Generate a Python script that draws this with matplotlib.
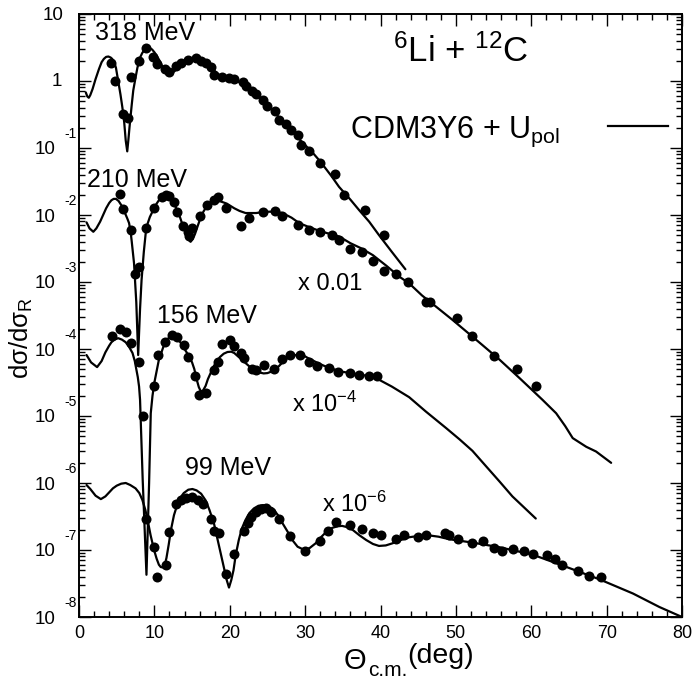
import matplotlib
matplotlib.use("Agg")
import numpy as np
import matplotlib.pyplot as plt
from matplotlib.ticker import MultipleLocator, LogLocator, NullFormatter

plt.rcParams['font.family'] = ['Liberation Sans', 'DejaVu Sans']
plt.rcParams['mathtext.fontset'] = 'custom'
plt.rcParams['mathtext.rm'] = 'Liberation Sans'
plt.rcParams['mathtext.it'] = 'Liberation Sans:italic'
plt.rcParams['mathtext.bf'] = 'Liberation Sans:bold'

# ---------------- 6Li + 12C elastic scattering, ratio to Rutherford ----------------
# scale factors used to separate the energies
scale_318, scale_210, scale_156, scale_99 = 1.0, 1e-2, 1e-4, 1e-6

# 318 MeV
th_318 = [4.3, 4.8, 5.9, 6.5, 6.95, 8.0, 8.9, 9.8, 10.4, 11.4, 11.95, 12.9, 13.5, 14.5,
          15.5, 16.2, 16.8, 17.5, 17.9, 18.95, 19.9, 20.6, 21.7, 22.1, 22.9, 23.5, 24.4,
          25.0, 26.0, 26.5, 27.5, 28.1, 29.1, 29.4, 30.5, 32.0, 34.0, 35.1, 38.0, 40.4]
sig_318 = [1.86, 1.0, 0.324, 0.282, 1.13, 2.0, 3.09, 2.26, 1.80, 1.51, 1.35, 1.70, 1.84, 2.06,
           2.20, 2.0, 1.84, 1.60, 1.23, 1.13, 1.10, 1.07, 0.955, 0.85, 0.716, 0.63, 0.52,
           0.424, 0.36, 0.263, 0.226, 0.186, 0.156, 0.111, 0.0912, 0.0603, 0.0407, 0.020,
           0.0120, 0.0050]
th_318_calc = [0.9, 1.1, 1.3, 1.5, 1.8, 2.2, 2.65, 3.0, 3.3, 3.6, 3.9, 4.2, 4.4, 4.7, 4.9,
               5.2, 5.5, 5.75, 6.0, 6.2, 6.4, 6.55, 6.7, 7.0, 7.2, 7.5, 7.75, 8.1, 8.4, 8.8,
               9.3, 9.7, 10.0, 10.4, 10.7, 11.0, 11.3, 11.7, 12.0, 12.4, 12.7, 13.1, 13.5,
               14.0, 14.5, 15.0, 15.5, 16.0, 16.5, 17.0, 17.5, 18.0, 18.5, 19.0, 19.5, 20.5,
               21.5, 22.5, 23.5, 24.2, 25.0, 26.6, 28.0, 29.5, 31.0, 32.0, 33.5, 34.5, 36.0,
               37.2, 38.5, 39.8, 41.5, 43.3]
sig_318_calc = [0.676, 0.589, 0.562, 0.617, 0.759, 1.07, 1.51, 1.91, 2.14, 2.29, 2.32, 2.24,
                2.14, 1.86, 1.58, 1.0, 0.631, 0.407, 0.240, 0.129, 0.0891, 0.132, 0.204,
                0.447, 0.724, 1.12, 1.58, 2.24, 2.63, 3.02, 3.16, 2.95, 2.69, 2.29, 2.0, 1.70,
                1.48, 1.32, 1.29, 1.32, 1.41, 1.58, 1.74, 1.91, 2.04, 2.14, 2.19, 2.14, 2.0,
                1.78, 1.58, 1.41, 1.26, 1.17, 1.12, 1.05, 0.933, 0.759, 0.617, 0.525, 0.437,
                0.282, 0.191, 0.126, 0.0851, 0.0631, 0.0380, 0.0263, 0.0170, 0.0117, 0.00794,
                0.00501, 0.00282, 0.00155]

# 210 MeV
th_210 = [5.4, 5.9, 6.95, 7.44, 7.97, 8.94, 9.96, 10.98, 11.6, 11.95, 12.6, 12.97, 13.85,
          14.4, 14.6, 15.05, 16.0, 16.95, 17.9, 18.5, 19.5, 21.5, 22.5, 24.4, 26.0, 26.9,
          29.1, 30.5, 32.0, 33.5, 34.5, 36.0, 37.5, 39.0, 40.5, 42.0, 43.6, 46.0, 46.6,
          50.1, 52.1, 55.1, 58.1, 60.6]
sig_210 = [2.04, 1.22, 0.603, 0.130, 0.170, 0.646, 1.26, 1.84, 2.00, 1.92, 1.58, 1.12, 0.692,
           0.562, 0.490, 0.631, 0.977, 1.41, 1.70, 1.86, 1.29, 0.692, 0.912, 1.11, 1.16, 0.966,
           0.701, 0.603, 0.562, 0.501, 0.417, 0.316, 0.282, 0.209, 0.148, 0.132, 0.100,
           0.0501, 0.0501, 0.0295, 0.0155, 0.00794, 0.00501, 0.00282]
th_210_calc = [1.0, 1.4, 1.9, 2.3, 2.8, 3.2, 3.6, 4.0, 4.3, 4.6, 4.9, 5.25, 5.6, 6.1, 6.4,
               6.64, 6.85, 7.0, 7.3, 7.6, 7.85, 8.1, 8.3, 8.6, 8.85, 9.1, 9.4, 9.96, 10.3,
               10.6, 11.0, 11.4, 11.8, 12.2, 12.6, 12.9, 13.3, 13.6, 14.0, 14.3, 14.55, 14.8,
               15.1, 15.4, 15.7, 16.1, 16.5, 16.9, 17.3, 17.8, 18.2, 18.6, 19.1, 19.6, 20.6,
               21.3, 22.1, 23.5, 24.8, 26.0, 27.0, 28.2, 29.2, 30.5, 32.0, 33.5, 34.5, 36.0,
               37.5, 39.0, 40.8, 42.5, 43.8, 45.5, 47.5, 49.5, 51.4, 53.5, 55.8, 58.5, 61.5,
               63.3, 64.5, 65.5, 67.3, 68.6, 70.6]
sig_210_calc = [0.776, 0.631, 0.562, 0.631, 0.794, 1.0, 1.26, 1.51, 1.66, 1.74, 1.74, 1.62,
                1.41, 1.07, 0.891, 0.759, 0.562, 0.398, 0.191, 0.0501, 0.00813, 0.0398, 0.107,
                0.282, 0.537, 0.741, 0.933, 1.26, 1.48, 1.66, 1.80, 1.86, 1.82, 1.70, 1.48,
                1.26, 1.0, 0.794, 0.603, 0.501, 0.427, 0.398, 0.437, 0.525, 0.661, 0.891,
                1.12, 1.32, 1.48, 1.58, 1.64, 1.62, 1.55, 1.48, 1.26, 1.15, 1.07, 1.07, 1.12,
                1.12, 1.07, 0.912, 0.759, 0.661, 0.575, 0.513, 0.479, 0.380, 0.316, 0.251,
                0.174, 0.120, 0.0955, 0.0631, 0.0417, 0.0275, 0.0182, 0.0115, 0.00692,
                0.00363, 0.00174, 0.00110, 0.000708, 0.000468, 0.000347, 0.000295, 0.000200]

# 156 MeV
th_156 = [4.4, 5.4, 6.2, 6.95, 7.97, 8.45, 9.96, 10.45, 11.4, 12.4, 12.97, 13.9, 14.4, 15.4,
          15.9, 16.9, 17.9, 18.5, 18.95, 20.0, 20.5, 21.5, 21.9, 23.0, 23.5, 24.6, 25.9,
          26.9, 28.0, 29.3, 30.5, 31.6, 33.2, 34.4, 35.9, 37.2, 38.5, 39.6]
sig_156 = [1.58, 2.00, 1.78, 1.23, 0.631, 0.100, 0.282, 0.813, 1.29, 1.62, 1.51, 1.15, 0.759,
           0.398, 0.204, 0.224, 0.490, 0.646, 1.17, 1.38, 1.10, 0.871, 0.724, 0.501, 0.479,
           0.575, 0.501, 0.708, 0.813, 0.813, 0.631, 0.562, 0.513, 0.457, 0.437, 0.407,
           0.398, 0.389]
th_156_calc = [1.0, 1.6, 2.4, 3.0, 3.5, 4.0, 4.3, 4.7, 5.2, 5.7, 6.2, 6.7, 7.1, 7.4, 7.6,
               7.8, 7.97, 8.1, 8.45, 8.95, 9.3, 9.52, 9.75, 10.0, 10.3, 10.6, 11.0, 11.3,
               11.7, 12.0, 12.3, 12.6, 13.0, 13.3, 13.7, 14.0, 14.5, 15.0, 15.3, 15.6, 15.9,
               16.2, 16.5, 16.8, 17.1, 17.5, 17.8, 18.2, 18.7, 19.2, 19.7, 20.2, 20.6, 21.0,
               21.5, 22.0, 22.6, 23.2, 23.9, 24.5, 25.0, 25.7, 26.4, 27.0, 27.6, 28.3, 29.0,
               29.7, 30.3, 31.0, 31.7, 32.5, 33.5, 34.5, 35.7, 37.0, 38.3, 39.5, 41.5, 43.8,
               46.0, 48.7, 50.5, 52.2, 54.0, 55.8, 57.5, 59.0, 60.6]
sig_156_calc = [0.813, 0.631, 0.537, 0.661, 0.891, 1.12, 1.26, 1.38, 1.45, 1.38, 1.26, 1.05,
                0.871, 0.661, 0.501, 0.380, 0.275, 0.174, 0.0112, 0.000427, 0.01, 0.110, 0.2,
                0.316, 0.468, 0.692, 0.933, 1.17, 1.38, 1.51, 1.57, 1.58, 1.48, 1.32, 1.15,
                1.00, 0.813, 0.631, 0.501, 0.355, 0.269, 0.229, 0.245, 0.282, 0.355, 0.447,
                0.537, 0.631, 0.759, 0.851, 0.902, 0.912, 0.871, 0.794, 0.708, 0.631, 0.550,
                0.490, 0.447, 0.432, 0.437, 0.468, 0.537, 0.631, 0.724, 0.794, 0.822, 0.813,
                0.741, 0.676, 0.617, 0.562, 0.513, 0.468, 0.442, 0.417, 0.398, 0.363, 0.275,
                0.191, 0.117, 0.0661, 0.0447, 0.0302, 0.0178, 0.0105, 0.00631, 0.00437,
                0.00295]

# 99 MeV
th_99 = [8.94, 9.96, 10.4, 11.5, 11.95, 12.9, 13.5, 14.2, 15.05, 15.8, 16.5, 17.5, 17.9,
         18.6, 19.5, 20.5, 21.9, 22.4, 22.8, 23.5, 24.1, 24.8, 25.5, 26.5, 28.0, 30.0, 32.0,
         33.0, 34.1, 35.9, 37.5, 39.0, 40.1, 42.0, 43.1, 45.0, 46.0, 48.5, 49.1, 50.3, 52.1,
         53.6, 55.1, 56.1, 57.6, 59.1, 60.2, 62.1, 63.2, 64.1, 66.2, 67.7, 69.2]
sig_99 = [0.288, 0.112, 0.0389, 0.0603, 0.186, 0.490, 0.550, 0.589, 0.617, 0.562, 0.490,
          0.295, 0.191, 0.178, 0.0437, 0.0871, 0.195, 0.251, 0.309, 0.363, 0.407, 0.417,
          0.372, 0.288, 0.162, 0.0977, 0.138, 0.195, 0.263, 0.234, 0.204, 0.178, 0.166, 0.148,
          0.166, 0.158, 0.166, 0.178, 0.170, 0.148, 0.126, 0.138, 0.107, 0.0977, 0.102,
          0.0977, 0.0871, 0.0851, 0.0741, 0.0589, 0.0490, 0.0407, 0.0389]
th_99_calc = [1.0, 1.5, 2.2, 2.9, 3.5, 4.0, 4.5, 5.0, 5.6, 6.2, 6.8, 7.5, 8.0, 8.4, 8.8, 9.1,
              9.5, 9.96, 10.3, 10.6, 10.85, 11.1, 11.35, 11.6, 11.9, 12.2, 12.6, 13.1, 13.5,
              13.9, 14.5, 15.05, 15.6, 16.2, 16.8, 17.3, 17.9, 18.4, 18.9, 19.3, 19.6, 19.9,
              20.2, 20.5, 20.8, 21.2, 21.6, 22.1, 22.6, 23.2, 23.8, 24.4, 25.0, 25.7, 26.4,
              27.0, 27.7, 28.3, 29.0, 29.9, 30.6, 31.4, 32.1, 32.8, 33.6, 34.3, 34.9, 35.6,
              36.3, 37.2, 38.1, 39.0, 39.8, 40.7, 41.6, 42.7, 43.8, 45.0, 46.3, 47.7, 49.1,
              52.2, 55.8, 60.2, 64.6, 69.1, 73.5, 77.0, 80.0]
sig_99_calc = [0.933, 0.813, 0.646, 0.575, 0.631, 0.724, 0.832, 0.912, 0.977, 1.00, 0.933,
               0.832, 0.708, 0.562, 0.398, 0.282, 0.166, 0.100, 0.0741, 0.0603, 0.0556, 0.0550,
               0.0589, 0.0759, 0.120, 0.200, 0.331, 0.501, 0.617, 0.708, 0.794, 0.813, 0.776,
               0.692, 0.550, 0.398, 0.251, 0.141, 0.0794, 0.0501, 0.0355, 0.0275, 0.0355,
               0.0501, 0.0851, 0.141, 0.209, 0.282, 0.355, 0.417, 0.457, 0.468, 0.457, 0.417,
               0.331, 0.251, 0.186, 0.141, 0.112, 0.100, 0.107, 0.126, 0.155, 0.186, 0.214,
               0.226, 0.229, 0.219, 0.200, 0.166, 0.141, 0.123, 0.115, 0.117, 0.126, 0.141,
               0.155, 0.162, 0.166, 0.158, 0.145, 0.129, 0.110, 0.0851, 0.0562, 0.0363, 0.0224,
               0.0141, 0.0100]

datasets = [
    (th_318, sig_318, th_318_calc, sig_318_calc, scale_318),
    (th_210, sig_210, th_210_calc, sig_210_calc, scale_210),
    (th_156, sig_156, th_156_calc, sig_156_calc, scale_156),
    (th_99, sig_99, th_99_calc, sig_99_calc, scale_99),
]

W, H = 696, 682
fig = plt.figure(figsize=(W / 100, H / 100), dpi=100)
ax_l, ax_r, ax_t, ax_b = 79, 682, 14, 617
ax = fig.add_axes([ax_l / W, 1 - ax_b / H, (ax_r - ax_l) / W, (ax_b - ax_t) / H])

for th, sig, thc, sigc, s in datasets:
    ax.plot(thc, np.asarray(sigc) * s, color='black', lw=1.6,
            solid_joinstyle='round', solid_capstyle='round')
    ax.plot(th, np.asarray(sig) * s, 'o', color='black', ms=7.2, mew=0)

ax.set_yscale('log')
ax.set_xlim(0, 80)
ax.set_ylim(1e-8, 10)

for sp in ax.spines.values():
    sp.set_linewidth(1.4)

ax.xaxis.set_major_locator(MultipleLocator(10))
ax.xaxis.set_minor_locator(MultipleLocator(2))
ax.yaxis.set_major_locator(LogLocator(base=10, numticks=20))
ax.yaxis.set_minor_locator(LogLocator(base=10, subs=np.arange(2, 10), numticks=20))
ax.yaxis.set_minor_formatter(NullFormatter())
ax.tick_params(which='both', direction='in', top=True, right=True, width=1.0)
ax.tick_params(which='major', length=8.5)
ax.tick_params(which='minor', length=4.3)
ax.tick_params(axis='x', labelsize=13, pad=6)
ax.tick_params(axis='y', labelleft=False)

# y tick labels written as base + raised exponent
pt = 72 / 100.0
for d in range(-8, 2):
    y = 10.0 ** d
    if d == 1:
        ax.annotate('10', xy=(0, y), xycoords=('axes fraction', 'data'),
                    xytext=(-16 * pt, -1 * pt), textcoords='offset points',
                    ha='right', va='center', fontsize=13.5)
    elif d == 0:
        ax.annotate('1', xy=(0, y), xycoords=('axes fraction', 'data'),
                    xytext=(-17 * pt, 0), textcoords='offset points',
                    ha='right', va='center', fontsize=13.5)
    else:
        ax.annotate('10', xy=(0, y), xycoords=('axes fraction', 'data'),
                    xytext=(-24 * pt, -2 * pt), textcoords='offset points',
                    ha='right', va='center', fontsize=13.5)
        ax.annotate(str(d), xy=(0, y), xycoords=('axes fraction', 'data'),
                    xytext=(-2 * pt, 14 * pt), textcoords='offset points',
                    ha='right', va='center', fontsize=10)


def fx(px):
    return px / W


def fy(py):
    return 1 - py / H


# x-axis title: Theta with a "c.m." subscript, then the unit
fig.text(fx(344), fy(669), 'Θ', fontsize=21, ha='left', va='baseline')
fig.text(fx(368), fy(676), 'c.m.', fontsize=15, ha='left', va='baseline')
fig.text(fx(407), fy(663), '(deg)', fontsize=20.5, ha='left', va='baseline')

fig.text(fx(21), fy(338), 'dσ/dσ$_{\\rm R}$', fontsize=18.5, rotation=90,
         ha='center', va='center')

fig.text(fx(95), fy(40), '318 MeV', fontsize=18, ha='left', va='baseline')
fig.text(fx(87), fy(187), '210 MeV', fontsize=18, ha='left', va='baseline')
fig.text(fx(157), fy(323), '156 MeV', fontsize=18, ha='left', va='baseline')
fig.text(fx(185), fy(475), '99 MeV', fontsize=18, ha='left', va='baseline')
fig.text(fx(298), fy(290), 'x 0.01', fontsize=17, ha='left', va='baseline')
fig.text(fx(292), fy(412), 'x 10$^{-4}$', fontsize=17, ha='left', va='baseline')
fig.text(fx(322), fy(512), 'x 10$^{-6}$', fontsize=17, ha='left', va='baseline')

fig.text(fx(393), fy(62), '$^{6}$Li + $^{12}$C', fontsize=25, ha='left', va='baseline')
fig.text(fx(350), fy(138), 'CDM3Y6 + U$_{\\rm pol}$', fontsize=22, ha='left', va='baseline')
fig.add_artist(plt.Line2D([fx(608), fx(668)], [fy(126), fy(126)], color='black', lw=1.6,
                          transform=fig.transFigure))

fig.savefig('out.png', dpi=100)
